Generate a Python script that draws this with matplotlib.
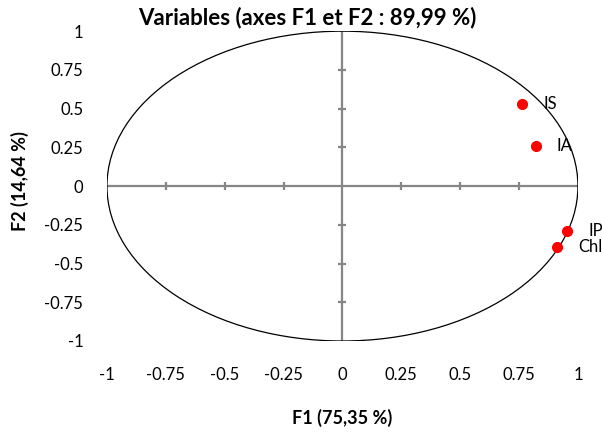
"""
Correlation circle (PCA variables plot, F1 x F2)
"""
import numpy as np
import matplotlib
matplotlib.use('Agg')
import matplotlib.pyplot as plt
from matplotlib.patches import Circle

# data
variables = ['IS', 'IA', 'IP', 'Chl']
f1 = [0.764, 0.820, 0.955, 0.913]
f2 = [0.529, 0.258, -0.290, -0.394]

ticks = [-1, -0.75, -0.5, -0.25, 0, 0.25, 0.5, 0.75, 1]
tick_labels = ['-1', '-0.75', '-0.5', '-0.25', '0', '0.25', '0.5', '0.75', '1']
inner_ticks = [-0.75, -0.5, -0.25, 0.25, 0.5, 0.75]

title = 'Variables (axes F1 et F2 : 89,99 %)'
xlabel = 'F1 (75,35 %)'
ylabel = 'F2 (14,64 %)'

plt.rcParams['font.family'] = ['Lato', 'DejaVu Sans']

fig = plt.figure(figsize=(6.02, 4.33), dpi=100)
ax = fig.add_axes([0.1777, 0.2125, 0.7823, 0.7155])
ax.set_xlim(-1, 1)
ax.set_ylim(-1, 1)

for s in ax.spines.values():
    s.set_visible(False)

# unit circle in data coords (shows as ellipse)
ax.add_patch(Circle((0, 0), 1, fill=False, edgecolor='black', linewidth=0.9,
                    zorder=2))

# axes through origin
grey = '#868686'
ax.plot([-1, 1], [0, 0], color=grey, linewidth=1.6, zorder=1)
ax.plot([0, 0], [-1, 1], color=grey, linewidth=1.6, zorder=1)
ax.plot(inner_ticks, [0] * len(inner_ticks), linestyle='none', marker='|',
        markersize=6, markeredgewidth=1.6, color=grey, zorder=1)
ax.plot([0] * len(inner_ticks), inner_ticks, linestyle='none', marker='_',
        markersize=6, markeredgewidth=1.6, color=grey, zorder=1)

# points
ax.plot(f1, f2, linestyle='none', marker='o', markersize=7,
        color='#ff0000', zorder=3)
for name, x, y in zip(variables, f1, f2):
    ax.annotate(name, (x, y), xytext=(15, 0), textcoords='offset points',
                va='center', ha='left', fontsize=12, color='black',
                annotation_clip=False)

ax.set_xticks(ticks)
ax.set_xticklabels(tick_labels)
ax.set_yticks(ticks)
ax.set_yticklabels(tick_labels)
ax.tick_params(axis='both', length=0, labelsize=12)
ax.tick_params(axis='x', pad=19)
ax.tick_params(axis='y', pad=17)

fig.text(307 / 602, 1 - 18 / 433, title, ha='center', va='center',
         fontsize=16, fontweight='bold')
fig.text(342 / 602, 1 - 418 / 433, xlabel, ha='center', va='center',
         fontsize=13, fontweight='bold')
fig.text(20 / 602, 1 - 181 / 433, ylabel, ha='center', va='center',
         fontsize=13, fontweight='bold', rotation=90)

fig.savefig('out.png', dpi=100)
